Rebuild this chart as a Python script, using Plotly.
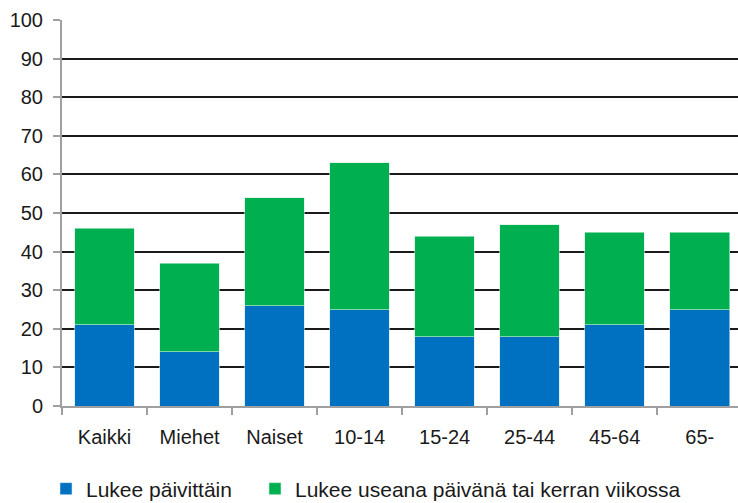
import plotly.graph_objects as go

categories = ["Kaikki", "Miehet", "Naiset", "10-14", "15-24", "25-44", "45-64", "65-"]
daily = [21, 14, 26, 25, 18, 18, 21, 25]
weekly = [25, 23, 28, 38, 26, 29, 24, 20]
series_names = ["Lukee päivittäin", "Lukee useana päivänä tai kerran viikossa"]
y_ticks = [0, 10, 20, 30, 40, 50, 60, 70, 80, 90, 100]

FONT = "Liberation Sans, Arial, sans-serif"
W, H = 738, 503

fig = go.Figure()
fig.add_trace(go.Bar(x=categories, y=daily, name=series_names[0], legend="legend",
                     marker=dict(color="#0070C0", line=dict(width=0.6, color="#cfe6f5"))))
fig.add_trace(go.Bar(x=categories, y=weekly, name=series_names[1], legend="legend2",
                     marker=dict(color="#00B050", line=dict(width=0.6, color="#cff0dd"))))

leg_common = dict(orientation="h", xref="container", xanchor="left",
                  yref="paper", y=(H - 489) / H, yanchor="middle",
                  font=dict(size=21, family=FONT, color="#1a1a1a"),
                  itemwidth=30, bgcolor="rgba(0,0,0,0)")

fig.update_layout(
    barmode="stack",
    bargap=0.3,
    width=W, height=H,
    margin=dict(l=62, r=0, t=0, b=0, autoexpand=False),
    paper_bgcolor="white", plot_bgcolor="white",
    font=dict(family=FONT, size=20, color="#1a1a1a"),
    showlegend=True,
    legend=dict(x=46 / W, **leg_common),
    legend2=dict(x=255 / W, **leg_common),
)
fig.update_xaxes(
    range=[-0.5, 7.45], automargin=False,
    showline=True, linecolor="#a0a0a0", linewidth=2,
    ticks="outside", tickson="boundaries", ticklen=7, tickcolor="#a0a0a0", tickwidth=2,
    ticklabelstandoff=12,
    showgrid=False, zeroline=False,
    tickfont=dict(size=20, family=FONT),
)
fig.update_yaxes(
    range=[0, 100], tickvals=y_ticks, automargin=False,
    domain=[(H - 406) / H, (H - 20) / H],
    showline=True, linecolor="#a0a0a0", linewidth=2,
    ticks="outside", ticklen=7, tickcolor="#a0a0a0", tickwidth=2,
    ticklabelstandoff=6,
    showgrid=True, gridcolor="#1a1a1a", gridwidth=1.6,
    zeroline=False,
    tickfont=dict(size=20, family=FONT),
)

fig.write_html("out.html", config={"displayModeBar": False},
               post_script="document.body.style.margin='0';")
